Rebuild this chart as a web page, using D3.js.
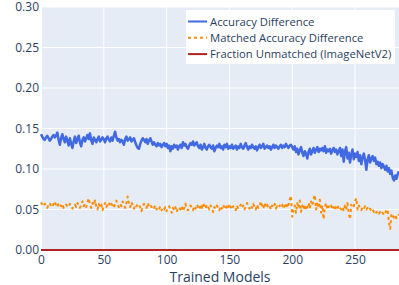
<!DOCTYPE html>
<html>
<head>
<meta charset="utf-8">
<script src="https://cdn.jsdelivr.net/npm/d3@7"></script>
<style>
  body { margin: 0; background: #fff; }
  svg { display: block; font-family: 'Open Sans', sans-serif; }
</style>
</head>
<body>
<div id="chart"></div>
<script>
// values (one per trained model)
const accuracyDiff = [
  0.143, 0.140, 0.137, 0.136, 0.139, 0.141, 0.138, 0.135, 0.137, 0.140,
  0.142, 0.139, 0.141, 0.145, 0.136, 0.130, 0.138, 0.143, 0.137, 0.133,
  0.140, 0.135, 0.129, 0.138, 0.131, 0.126, 0.134, 0.140, 0.132, 0.137,
  0.141, 0.133, 0.128, 0.136, 0.139, 0.134, 0.138, 0.142, 0.137, 0.144,
  0.135, 0.131, 0.139, 0.136, 0.133, 0.137, 0.140, 0.134, 0.136, 0.139,
  0.137, 0.133, 0.138, 0.140, 0.136, 0.134, 0.139, 0.135, 0.141, 0.146,
  0.139, 0.135, 0.137, 0.133, 0.136, 0.134, 0.130, 0.137, 0.140, 0.135,
  0.137, 0.139, 0.134, 0.136, 0.138, 0.133, 0.129, 0.126, 0.125, 0.131,
  0.135, 0.138, 0.136, 0.133, 0.137, 0.131, 0.135, 0.138, 0.134, 0.130,
  0.133, 0.130, 0.128, 0.132, 0.129, 0.131, 0.127, 0.130, 0.132, 0.128,
  0.131, 0.126, 0.129, 0.122, 0.128, 0.125, 0.130, 0.127, 0.129, 0.124,
  0.128, 0.130, 0.126, 0.133, 0.129, 0.131, 0.127, 0.125, 0.129, 0.132,
  0.130, 0.134, 0.129, 0.131, 0.133, 0.128, 0.126, 0.130, 0.124, 0.127,
  0.131, 0.126, 0.124, 0.128, 0.130, 0.127, 0.125, 0.129, 0.122, 0.126,
  0.129, 0.127, 0.131, 0.126, 0.128, 0.124, 0.130, 0.127, 0.131, 0.125,
  0.128, 0.126, 0.130, 0.125, 0.127, 0.129, 0.124, 0.128, 0.126, 0.131,
  0.127, 0.125, 0.129, 0.132, 0.127, 0.124, 0.128, 0.126, 0.130, 0.127,
  0.125, 0.128, 0.123, 0.127, 0.130, 0.126, 0.128, 0.131, 0.125, 0.127,
  0.129, 0.126, 0.128, 0.124, 0.127, 0.130, 0.126, 0.129, 0.127, 0.125,
  0.128, 0.130, 0.126, 0.129, 0.127, 0.131, 0.128, 0.126, 0.129, 0.130,
  0.127, 0.124, 0.128, 0.121, 0.125, 0.118, 0.123, 0.127, 0.120, 0.116,
  0.122, 0.119, 0.113, 0.121, 0.125, 0.118, 0.122, 0.126, 0.120, 0.124,
  0.127, 0.121, 0.125, 0.123, 0.126, 0.122, 0.128, 0.120, 0.124, 0.122,
  0.125, 0.119, 0.123, 0.126, 0.121, 0.124, 0.118, 0.122, 0.126, 0.116,
  0.124, 0.109, 0.122, 0.127, 0.113, 0.120, 0.108, 0.118, 0.124, 0.112,
  0.119, 0.115, 0.121, 0.110, 0.117, 0.106, 0.114, 0.119, 0.111, 0.099,
  0.112, 0.117, 0.108, 0.113, 0.116, 0.110, 0.114, 0.106, 0.109, 0.104,
  0.108, 0.101, 0.106, 0.103, 0.099, 0.104, 0.097, 0.101, 0.094, 0.098,
  0.089, 0.086, 0.092, 0.088, 0.094, 0.097
]

const matchedDiff = [
  0.059, 0.056, 0.054, 0.057, 0.055, 0.052, 0.056, 0.058, 0.054, 0.053,
  0.057, 0.060, 0.055, 0.053, 0.058, 0.056, 0.054, 0.057, 0.052, 0.055,
  0.056, 0.054, 0.053, 0.057, 0.055, 0.051, 0.054, 0.056, 0.053, 0.058,
  0.055, 0.052, 0.056, 0.060, 0.054, 0.057, 0.053, 0.059, 0.064, 0.056,
  0.052, 0.058, 0.055, 0.061, 0.054, 0.050, 0.057, 0.053, 0.056, 0.049,
  0.055, 0.058, 0.053, 0.056, 0.059, 0.054, 0.057, 0.055, 0.052, 0.058,
  0.061, 0.055, 0.053, 0.057, 0.054, 0.060, 0.056, 0.052, 0.058, 0.066,
  0.057, 0.053, 0.059, 0.055, 0.051, 0.056, 0.054, 0.057, 0.055, 0.053,
  0.048, 0.054, 0.057, 0.055, 0.052, 0.058, 0.054, 0.056, 0.053, 0.055,
  0.052, 0.055, 0.050, 0.053, 0.051, 0.054, 0.049, 0.052, 0.050, 0.053,
  0.048, 0.051, 0.054, 0.050, 0.046, 0.052, 0.049, 0.053, 0.047, 0.051,
  0.053, 0.050, 0.054, 0.048, 0.052, 0.057, 0.051, 0.049, 0.053, 0.055,
  0.052, 0.049, 0.054, 0.051, 0.056, 0.053, 0.050, 0.055, 0.052, 0.058,
  0.054, 0.051, 0.056, 0.053, 0.050, 0.055, 0.052, 0.047, 0.053, 0.051,
  0.055, 0.052, 0.049, 0.054, 0.051, 0.056, 0.053, 0.050, 0.055, 0.052,
  0.057, 0.053, 0.050, 0.054, 0.052, 0.049, 0.055, 0.051, 0.053, 0.056,
  0.052, 0.055, 0.050, 0.054, 0.058, 0.053, 0.051, 0.055, 0.052, 0.057,
  0.053, 0.050, 0.056, 0.052, 0.054, 0.060, 0.055, 0.051, 0.058, 0.053,
  0.056, 0.052, 0.054, 0.050, 0.055, 0.053, 0.057, 0.051, 0.054, 0.052,
  0.055, 0.053, 0.056, 0.051, 0.054, 0.058, 0.052, 0.056, 0.062, 0.067,
  0.041, 0.050, 0.055, 0.046, 0.058, 0.052, 0.061, 0.047, 0.055, 0.050,
  0.056, 0.049, 0.053, 0.058, 0.051, 0.060, 0.055, 0.063, 0.068, 0.050,
  0.057, 0.052, 0.062, 0.046, 0.055, 0.038, 0.053, 0.058, 0.050, 0.054,
  0.052, 0.055, 0.050, 0.053, 0.049, 0.054, 0.051, 0.055, 0.052, 0.050,
  0.053, 0.048, 0.055, 0.051, 0.058, 0.045, 0.038, 0.056, 0.052, 0.054,
  0.060, 0.064, 0.050, 0.055, 0.052, 0.049, 0.053, 0.051, 0.054, 0.050,
  0.052, 0.049, 0.051, 0.048, 0.050, 0.047, 0.049, 0.046, 0.048, 0.045,
  0.047, 0.044, 0.046, 0.043, 0.045, 0.050, 0.049, 0.034, 0.026, 0.045,
  0.042, 0.040, 0.043, 0.039, 0.041, 0.044
]

// fraction unmatched is zero for every model
const fractionUnmatched = accuracyDiff.map(() => 0)

const seriesNames = [
  'Accuracy Difference',
  'Matched Accuracy Difference',
  'Fraction Unmatched (ImageNetV2)'
]
const xTicks = [0, 50, 100, 150, 200, 250]
const yTicks = [0, 0.05, 0.1, 0.15, 0.2, 0.25, 0.3]

const W = 399
const H = 285
const margin = { top: 7, left: 41, right: 0, bottom: 35 }
const width = W - margin.left - margin.right
const height = H - margin.top - margin.bottom

const svg = d3
  .select('#chart')
  .append('svg')
  .attr('width', W)
  .attr('height', H)

const g = svg
  .append('g')
  .attr('transform', `translate(${margin.left},${margin.top})`)

const x = d3.scaleLinear().domain([0, 285]).range([0, width])
const y = d3.scaleLinear().domain([0, 0.3]).range([height, 0])

// plot background
g.append('rect')
  .attr('width', width)
  .attr('height', height)
  .attr('fill', '#e5ecf6')

// grid
g.selectAll('.xgrid')
  .data(xTicks)
  .enter()
  .append('line')
  .attr('x1', d => x(d))
  .attr('x2', d => x(d))
  .attr('y1', 0)
  .attr('y2', height)
  .attr('stroke', '#fff')
  .attr('stroke-width', d => (d === 0 ? 2 : 1))

g.selectAll('.ygrid')
  .data(yTicks)
  .enter()
  .append('line')
  .attr('x1', 0)
  .attr('x2', width)
  .attr('y1', d => y(d))
  .attr('y2', d => y(d))
  .attr('stroke', '#fff')
  .attr('stroke-width', d => (d === 0 ? 2 : 1))

// axes, text only
const xAxis = g
  .append('g')
  .attr('transform', `translate(0,${height})`)
  .call(d3.axisBottom(x).tickValues(xTicks).tickSize(0).tickPadding(5))
const yAxis = g
  .append('g')
  .call(
    d3
      .axisLeft(y)
      .tickValues(yTicks)
      .tickSize(0)
      .tickPadding(2)
      .tickFormat(d3.format('.2f'))
  )
;[xAxis, yAxis].forEach(a => {
  a.select('.domain').remove()
  a.selectAll('text')
    .attr('fill', '#2a3f5f')
    .style('font-size', '12px')
    .style('font-family', "'Open Sans', sans-serif")
})

svg
  .append('text')
  .attr('x', margin.left + width / 2)
  .attr('y', 282)
  .attr('text-anchor', 'middle')
  .attr('fill', '#2a3f5f')
  .style('font-size', '14px')
  .text('Trained Models')

// lines
const line = d3
  .line()
  .x((d, i) => x(i))
  .y(d => y(d))

const series = [
  { values: accuracyDiff, color: '#4169e1', dash: null, w: 2.5 },
  { values: matchedDiff, color: '#ff8c00', dash: '3,3', w: 2 },
  { values: fractionUnmatched, color: '#b22222', dash: null, w: 2 }
]

series.forEach(s => {
  g.append('path')
    .datum(s.values)
    .attr('d', line)
    .attr('fill', 'none')
    .attr('stroke', s.color)
    .attr('stroke-width', s.w)
    .attr('stroke-linejoin', 'round')
    .attr('stroke-dasharray', s.dash)
})

// legend
const legend = svg.append('g').attr('transform', 'translate(186,10)')
legend
  .append('rect')
  .attr('width', 209)
  .attr('height', 54)
  .attr('fill', '#fff')

series.forEach((s, i) => {
  const row = legend.append('g').attr('transform', `translate(0,${11.5 + i * 16.3})`)
  row
    .append('line')
    .attr('x1', 2)
    .attr('x2', 21)
    .attr('stroke', s.color)
    .attr('stroke-width', 2)
    .attr('stroke-dasharray', s.dash)
  row
    .append('text')
    .attr('x', 24)
    .attr('y', 4)
    .attr('fill', '#2a3f5f')
    .style('font-size', '11.3px')
    .text(seriesNames[i])
})
</script>
</body>
</html>
